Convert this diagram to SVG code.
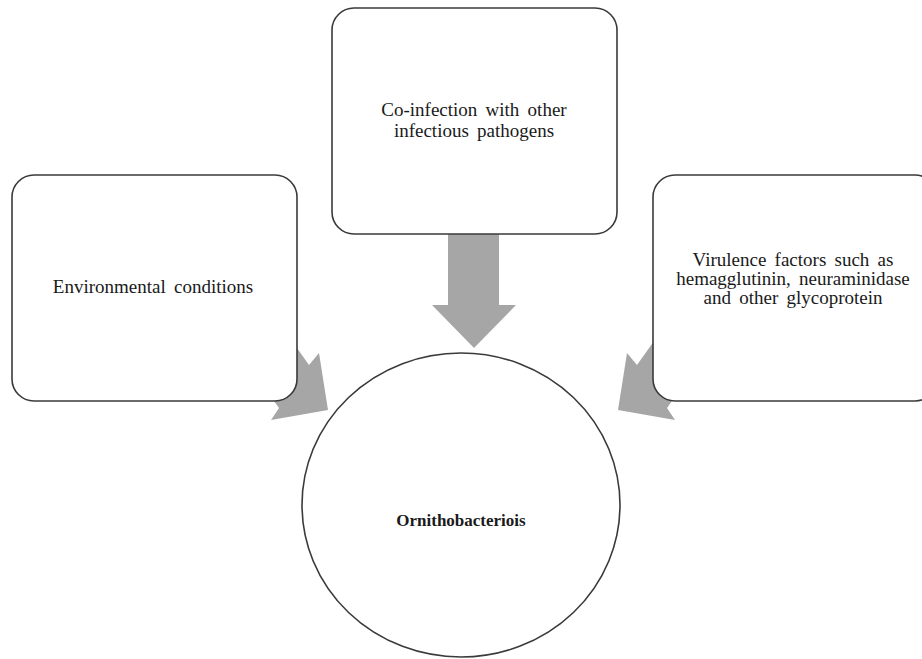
<svg xmlns="http://www.w3.org/2000/svg" width="922" height="659" viewBox="0 0 922 659">
<style>
.box{fill:#fff;stroke:#3a3a3a;stroke-width:1.6}
.arr{fill:#a6a6a6}
.t{font-family:"Liberation Serif","Times New Roman",serif;font-size:19px;fill:#1a1a1a;text-anchor:middle;word-spacing:3.5px}
.b{font-weight:bold;word-spacing:0;font-size:17px}
</style>
<rect width="922" height="659" fill="#fff"/>
<g id="connectors">
<polygon class="arr" points="448,234 499,234 499,305 516,305 474,348 432,305 448,305"/>
<polygon class="arr" points="270,310 309,365 319,353 328,410 271,420 279,408 240,353"/>
<polygon class="arr" points="676,310 637,365 627,353 618,410 675,420 667,408 706,353"/>
</g>
<g id="node-env">
<rect class="box" x="12" y="175" width="285" height="226" rx="22"/>
<text class="t" x="153" y="293">Environmental conditions</text>
</g>
<g id="node-coinf">
<rect class="box" x="332" y="8" width="285" height="226" rx="22"/>
<text class="t" x="474" y="116">Co-infection with other</text>
<text class="t" x="474" y="137">infectious pathogens</text>
</g>
<g id="node-vir">
<rect class="box" x="653" y="175" width="284" height="226" rx="22"/>
<text class="t" x="793" y="266">Virulence factors such as</text>
<text class="t" x="793" y="285">hemagglutinin, neuraminidase</text>
<text class="t" x="793" y="304">and other glycoprotein</text>
</g>
<g id="node-orn">
<ellipse class="box" cx="461" cy="505" rx="159" ry="152"/>
<text class="t b" x="461" y="526">Ornithobacteriois</text>
</g>
</svg>
